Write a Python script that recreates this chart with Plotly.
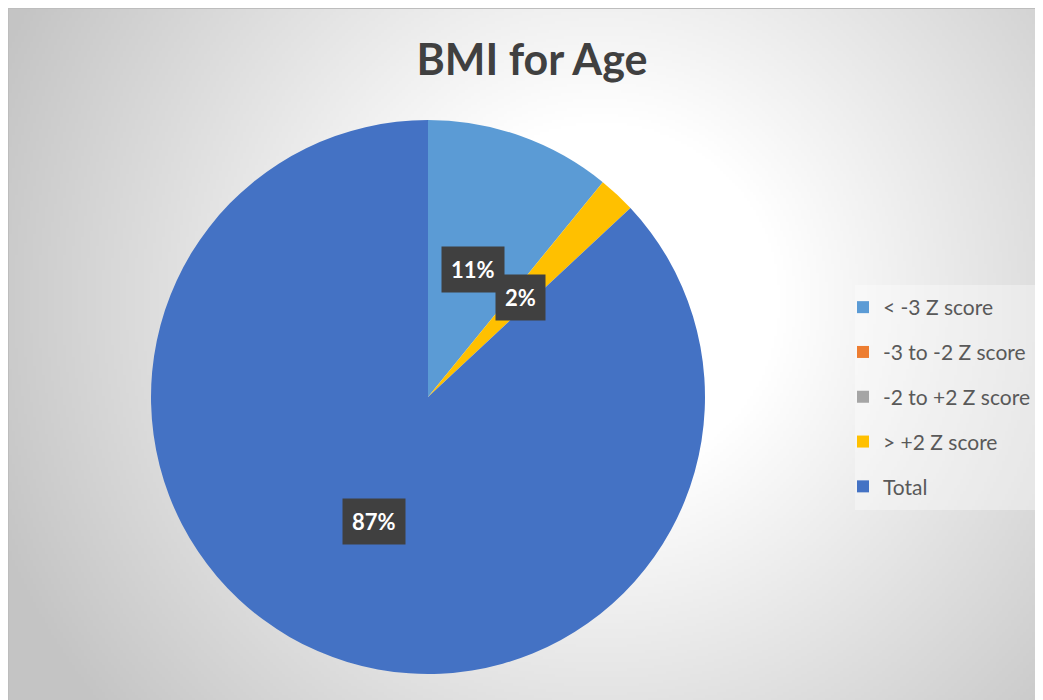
import base64, struct, zlib
import numpy as np
import plotly.graph_objects as go

# ---- data ----
categories = ["< -3 Z score", "-3 to -2 Z score", "-2 to +2 Z score", "> +2 Z score", "Total"]
values = [5, 0, 0, 1, 40]
colors = ["#5B9BD5", "#ED7D31", "#A5A5A5", "#FFC000", "#4472C4"]
title_text = "BMI for Age"

W, H = 1043, 700
OFF = 8  # page body margin: page pixel = paper pixel + 8
# pie geometry (page pixels)
CX, CY, R = 428, 397, 277


def px2x(px):
    return (px - OFF) / W


def py2y(py):
    return 1 - (py - OFF) / H


def png_uri(arr):
    h, w, _ = arr.shape
    raw = b"".join(b"\x00" + arr[i].tobytes() for i in range(h))
    def chunk(t, d):
        c = struct.pack(">I", len(d)) + t + d
        return c + struct.pack(">I", zlib.crc32(t + d) & 0xFFFFFFFF)
    png = b"\x89PNG\r\n\x1a\n" + chunk(b"IHDR", struct.pack(">IIBBBBB", w, h, 8, 2, 0, 0, 0)) \
        + chunk(b"IDAT", zlib.compress(raw, 9)) + chunk(b"IEND", b"")
    return "data:image/png;base64," + base64.b64encode(png).decode()


# radial background gradient of the chart area (page coords 8..1051, 8..708)
step = 3
xs = np.arange(OFF, W + OFF, step)
ys = np.arange(OFF, H + OFF, step)
XX, YY = np.meshgrid(xs, ys)
d = np.sqrt((XX - 600) ** 2 + (YY - 300) ** 2)
v = 255 - 0.125 * np.clip(d - 180, 0, None)
v = np.clip(v, 196, 255).astype(np.uint8)
bg = np.stack([v, v, v], axis=-1)

fig = go.Figure()

fig.add_trace(go.Pie(
    labels=categories, values=values,
    marker=dict(colors=colors, line=dict(width=0)),
    sort=False, direction="clockwise", rotation=0,
    textinfo="none", hoverinfo="label+percent",
    showlegend=False,
    domain=dict(x=[px2x(CX - R), px2x(CX + R)], y=[py2y(CY + R), py2y(CY - R)]),
))

# legend entries (one per category, separate groups to control spacing)
for i, (lab, col) in enumerate(zip(categories, colors)):
    fig.add_trace(go.Scatter(
        x=[None], y=[None], mode="markers", name=lab,
        marker=dict(symbol="square", size=12, color=col),
        legendgroup=f"g{i}", showlegend=True, hoverinfo="skip",
    ))

# data labels along slice mid-angles
total = sum(values)
cum = 0.0
annotations = []
for lab, val in zip(categories, values):
    frac = val / total
    if val > 0:
        mid = (cum + frac / 2) * 2 * np.pi
        r = 0.49 * R
        px = CX + r * np.sin(mid)
        py = CY - r * np.cos(mid)
        txt = f"{round(frac * 100)}%"
        annotations.append(dict(
            x=px2x(px), y=py2y(py), xref="paper", yref="paper", text=f"<b>{txt}</b>",
            xanchor="center", yanchor="middle",
            showarrow=False, font=dict(family="Lato, sans-serif", size=22, color="white"),
            bgcolor="#404040", borderpad=9,
        ))
    cum += frac

fig.update_layout(
    width=W, height=H,
    margin=dict(l=0, r=0, t=0, b=0),
    paper_bgcolor="white", plot_bgcolor="rgba(0,0,0,0)",
    xaxis=dict(visible=False), yaxis=dict(visible=False),
    title=dict(text=f"<b>{title_text}</b>", x=px2x(532), xanchor="center", y=py2y(60), yanchor="middle",
               font=dict(family="Lato, sans-serif", size=43, color="#404040")),
    legend=dict(x=px2x(843), xanchor="left", y=py2y(287), yanchor="top",
                font=dict(family="Lato, sans-serif", size=21, color="#595959"),
                bgcolor="rgba(0,0,0,0)", tracegroupgap=14.5, itemwidth=30),
    images=[dict(source=png_uri(bg), xref="paper", yref="paper", x=0, y=1,
                 sizex=1, sizey=1, sizing="stretch", layer="below")],
    shapes=[
        dict(type="rect", xref="paper", yref="paper", x0=0, x1=1, y0=0, y1=1,
             line=dict(color="#bdbdbd", width=2), fillcolor="rgba(0,0,0,0)", layer="below"),
        dict(type="rect", xref="paper", yref="paper", x0=px2x(855), x1=px2x(1040), y0=py2y(510), y1=py2y(285),
             line=dict(width=0), fillcolor="rgba(255,255,255,0.35)", layer="below"),
    ],
    annotations=annotations,
)

fig.write_html("out.html")
